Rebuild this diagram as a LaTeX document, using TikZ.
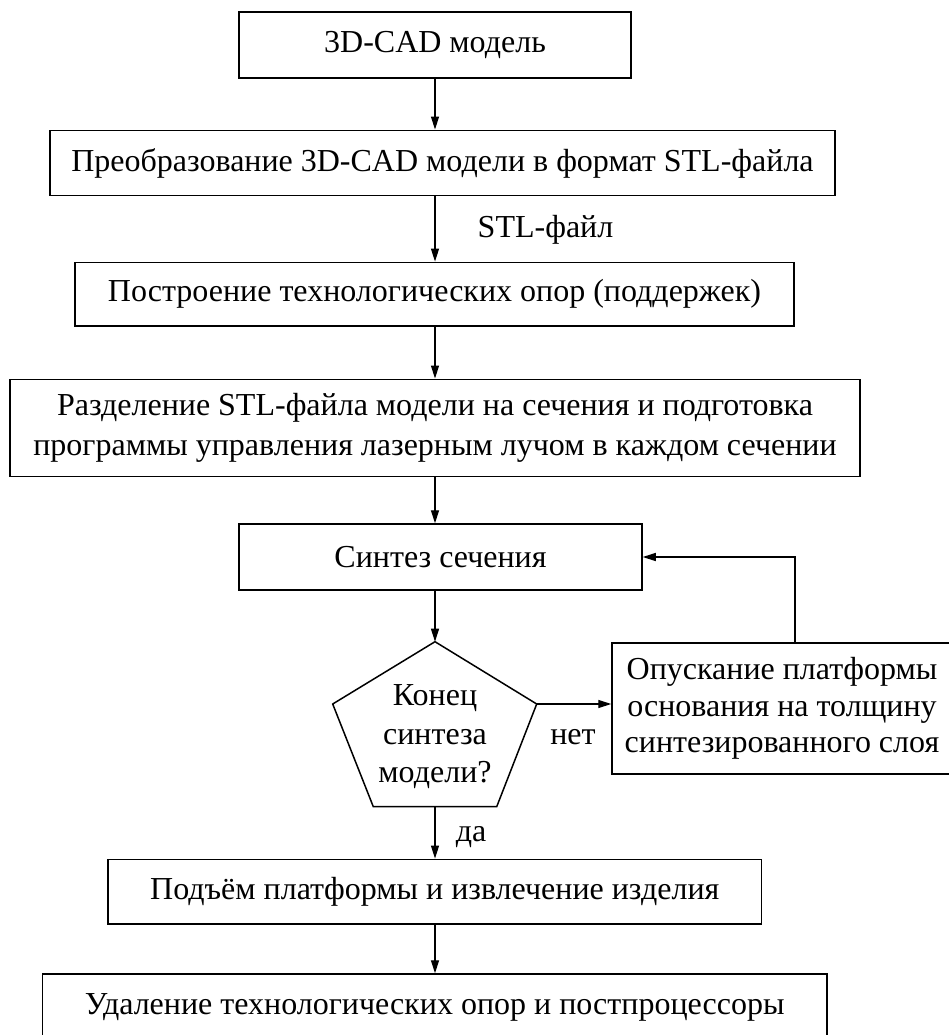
\documentclass[tikz,border=0pt]{standalone}
\usepackage{fontspec}
\setmainfont{Liberation Serif}
\usetikzlibrary{arrows.meta}

\begin{document}
\begin{tikzpicture}[x=1pt, y=-1pt,
  txt/.style={font=\fontsize{32}{40}\selectfont, align=center, inner sep=0pt},
  box/.style={txt, draw, line width=1.5pt, minimum width=#1},
  arr/.style={line width=1.2pt, -{Triangle[length=13pt, width=8pt]}},
  lbl/.style={font=\fontsize{32}{40}\selectfont, inner sep=0pt}
]
\useasboundingbox (0,0) rectangle (949,1035);
\begin{scope}
\clip (0,0) rectangle (949,1035);

% process boxes
\node[box=392, minimum height=66] (cad) at (435,45.2) {3D-CAD модель};
\node[box=785, minimum height=65.4] (conv) at (442.5,163) {Преобразование 3D-CAD модели в формат STL-файла};
\node[box=719, minimum height=63.7] (supp) at (434.5,294.2) {Построение технологических опор (поддержек)};
\node[box=850, minimum height=97.4] (slice) at (435,428) {Разделение STL-файла модели на сечения и подготовка\\программы управления лазерным лучом в каждом сечении};
\node[box=403, minimum height=66] (synth) at (440.5,557) {Синтез сечения};
\node[box=340, minimum height=131, font=\fontsize{32}{36.5}\selectfont] (lower) at (782,708.5) {Опускание платформы\\основания на толщину\\синтезированного слоя};
\node[box=653.5, minimum height=64.7] (lift) at (434.75,891.7) {Подъём платформы и извлечение изделия};
\node[box=784.6, minimum height=66] (post) at (434.7,1007) {Удаление технологических опор и постпроцессоры};

% main flow axis
\coordinate (ax) at (435,0);

% decision pentagon
\coordinate (top) at (435,641.7);
\coordinate (ul) at (332.7,704);
\coordinate (ur) at (536.7,704);
\coordinate (bl) at (373.3,806.7);
\coordinate (br) at (496.7,806.7);
\coordinate (bot) at (435,806.7);
\draw[line width=1.5pt] (top) -- (ur) -- (br) -- (bl) -- (ul) -- cycle;
\node[txt, font=\fontsize{32}{38.5}\selectfont] (dec) at (435,737) {Конец\\синтеза\\модели?};

% connectors
\draw[arr] (ax |- cad.south) -- (ax |- conv.north);
\draw[arr] (ax |- conv.south) -- (ax |- supp.north);
\draw[arr] (ax |- supp.south) -- (ax |- slice.north);
\draw[arr] (ax |- slice.south) -- (ax |- synth.north);
\draw[arr] (ax |- synth.south) -- (top);
\draw[arr] (ur) -- (ur -| lower.west);
\coordinate (fb) at (795,643.5);
\draw[arr] (fb) |- (synth.east);
\draw[arr] (bot) -- (bot |- lift.north);
\draw[arr] (ax |- lift.south) -- (ax |- post.north);

% connector labels
\node[lbl] (stl) at (545.5,230) {STL-файл};
\node[lbl] (no) at (573,737) {нет};
\node[lbl] (yes) at (471,837) {да};
\end{scope}
\end{tikzpicture}
\end{document}
